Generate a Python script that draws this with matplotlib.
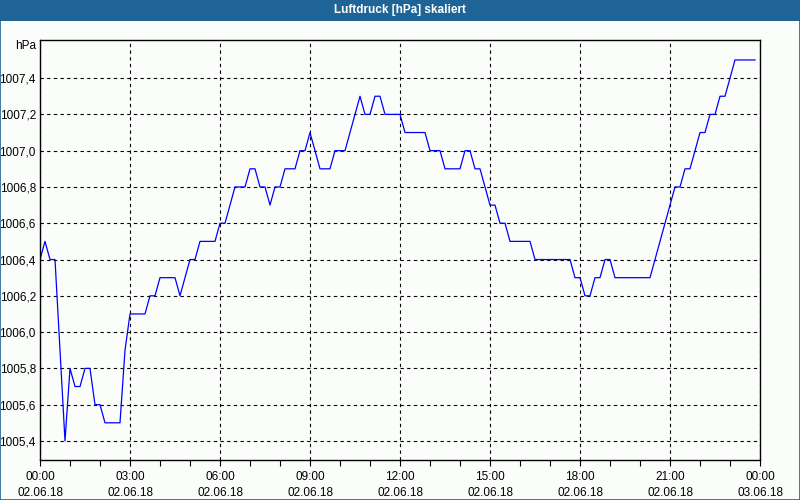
import numpy as np
import pandas as pd
import matplotlib
matplotlib.use("Agg")
import matplotlib.pyplot as plt
import matplotlib.dates as mdates
from matplotlib.patches import Rectangle
from matplotlib.ticker import FixedLocator, FuncFormatter

# Luftdruck, 10-Minuten-Werte ab 02.06.18 00:00
druck = [
    1006.4, 1006.5, 1006.4, 1006.4, 1005.9, 1005.4, 1005.8, 1005.7, 1005.7, 1005.8,
    1005.8, 1005.6, 1005.6, 1005.5, 1005.5, 1005.5, 1005.5, 1005.9, 1006.1, 1006.1,
    1006.1, 1006.1, 1006.2, 1006.2, 1006.3, 1006.3, 1006.3, 1006.3, 1006.2, 1006.3,
    1006.4, 1006.4, 1006.5, 1006.5, 1006.5, 1006.5, 1006.6, 1006.6, 1006.7, 1006.8,
    1006.8, 1006.8, 1006.9, 1006.9, 1006.8, 1006.8, 1006.7, 1006.8, 1006.8, 1006.9,
    1006.9, 1006.9, 1007.0, 1007.0, 1007.1, 1007.0, 1006.9, 1006.9, 1006.9, 1007.0,
    1007.0, 1007.0, 1007.1, 1007.2, 1007.3, 1007.2, 1007.2, 1007.3, 1007.3, 1007.2,
    1007.2, 1007.2, 1007.2, 1007.1, 1007.1, 1007.1, 1007.1, 1007.1, 1007.0, 1007.0,
    1007.0, 1006.9, 1006.9, 1006.9, 1006.9, 1007.0, 1007.0, 1006.9, 1006.9, 1006.8,
    1006.7, 1006.7, 1006.6, 1006.6, 1006.5, 1006.5, 1006.5, 1006.5, 1006.5, 1006.4,
    1006.4, 1006.4, 1006.4, 1006.4, 1006.4, 1006.4, 1006.4, 1006.3, 1006.3, 1006.2,
    1006.2, 1006.3, 1006.3, 1006.4, 1006.4, 1006.3, 1006.3, 1006.3, 1006.3, 1006.3,
    1006.3, 1006.3, 1006.3, 1006.4, 1006.5, 1006.6, 1006.7, 1006.8, 1006.8, 1006.9,
    1006.9, 1007.0, 1007.1, 1007.1, 1007.2, 1007.2, 1007.3, 1007.3, 1007.4, 1007.5,
    1007.5, 1007.5, 1007.5, 1007.5,
]
zeit = pd.date_range("2018-06-02 00:00", periods=len(druck), freq="10min")
y_ticks = [1005.4, 1005.6, 1005.8, 1006.0, 1006.2, 1006.4, 1006.6, 1006.8, 1007.0, 1007.2, 1007.4]
titel = "Luftdruck [hPa] skaliert"
einheit = "hPa"

plt.rcParams["font.family"] = ["Liberation Sans", "DejaVu Sans"]

bg = "#fbfdfb"
blau = "#1e6496"

fig = plt.figure(figsize=(8, 5), dpi=100, facecolor=bg)

# Titelleiste und Rahmen
fig.patches.append(Rectangle((0, 1 - 21 / 500), 1, 21 / 500, transform=fig.transFigure,
                             facecolor=blau, edgecolor="none", zorder=0))
fig.patches.append(Rectangle((0.0006, 0.001), 0.9988, 0.998, transform=fig.transFigure,
                             facecolor="none", edgecolor=blau, lw=1.2, zorder=0))
fig.text(0.5, 1 - 10.5 / 500, titel, color="white", fontsize=8.5, fontweight="bold",
         ha="center", va="center")

ax = fig.add_axes([40 / 800, 40 / 500, 720 / 800, 420 / 500])
ax.set_facecolor(bg)
ax.plot(zeit, druck, color="#0000ff", lw=0.9)

ax.set_xlim(pd.Timestamp("2018-06-02 00:00"), pd.Timestamp("2018-06-03 00:00"))
ax.set_ylim(1005.295, 1007.61)

ax.xaxis.set_major_locator(mdates.HourLocator(byhour=range(0, 24, 3)))
ax.xaxis.set_minor_locator(mdates.HourLocator())
ax.xaxis.set_major_formatter(mdates.DateFormatter("%H:%M\n%d.%m.%y"))
ax.yaxis.set_major_locator(FixedLocator(y_ticks))
ax.yaxis.set_major_formatter(FuncFormatter(lambda v, p: f"{v:.1f}".replace(".", ",")))

ax.tick_params(axis="x", which="both", direction="out", length=4, width=0.8, labelsize=8.5,
               pad=4, colors="black")
ax.tick_params(axis="y", length=0, labelsize=8.5, pad=3)
for lab in ax.get_xticklabels():
    lab.set_linespacing(1.45)

ax.grid(True, which="major", color="black", linestyle=(0, (3, 3)), lw=0.8)
for s in ax.spines.values():
    s.set_linewidth(1.0)
    s.set_color("black")

ax.text(-4 / 720, 1 - 6 / 420, einheit, transform=ax.transAxes, ha="right", va="center",
        fontsize=8.5)

fig.savefig("out.png", dpi=100, facecolor=bg)
